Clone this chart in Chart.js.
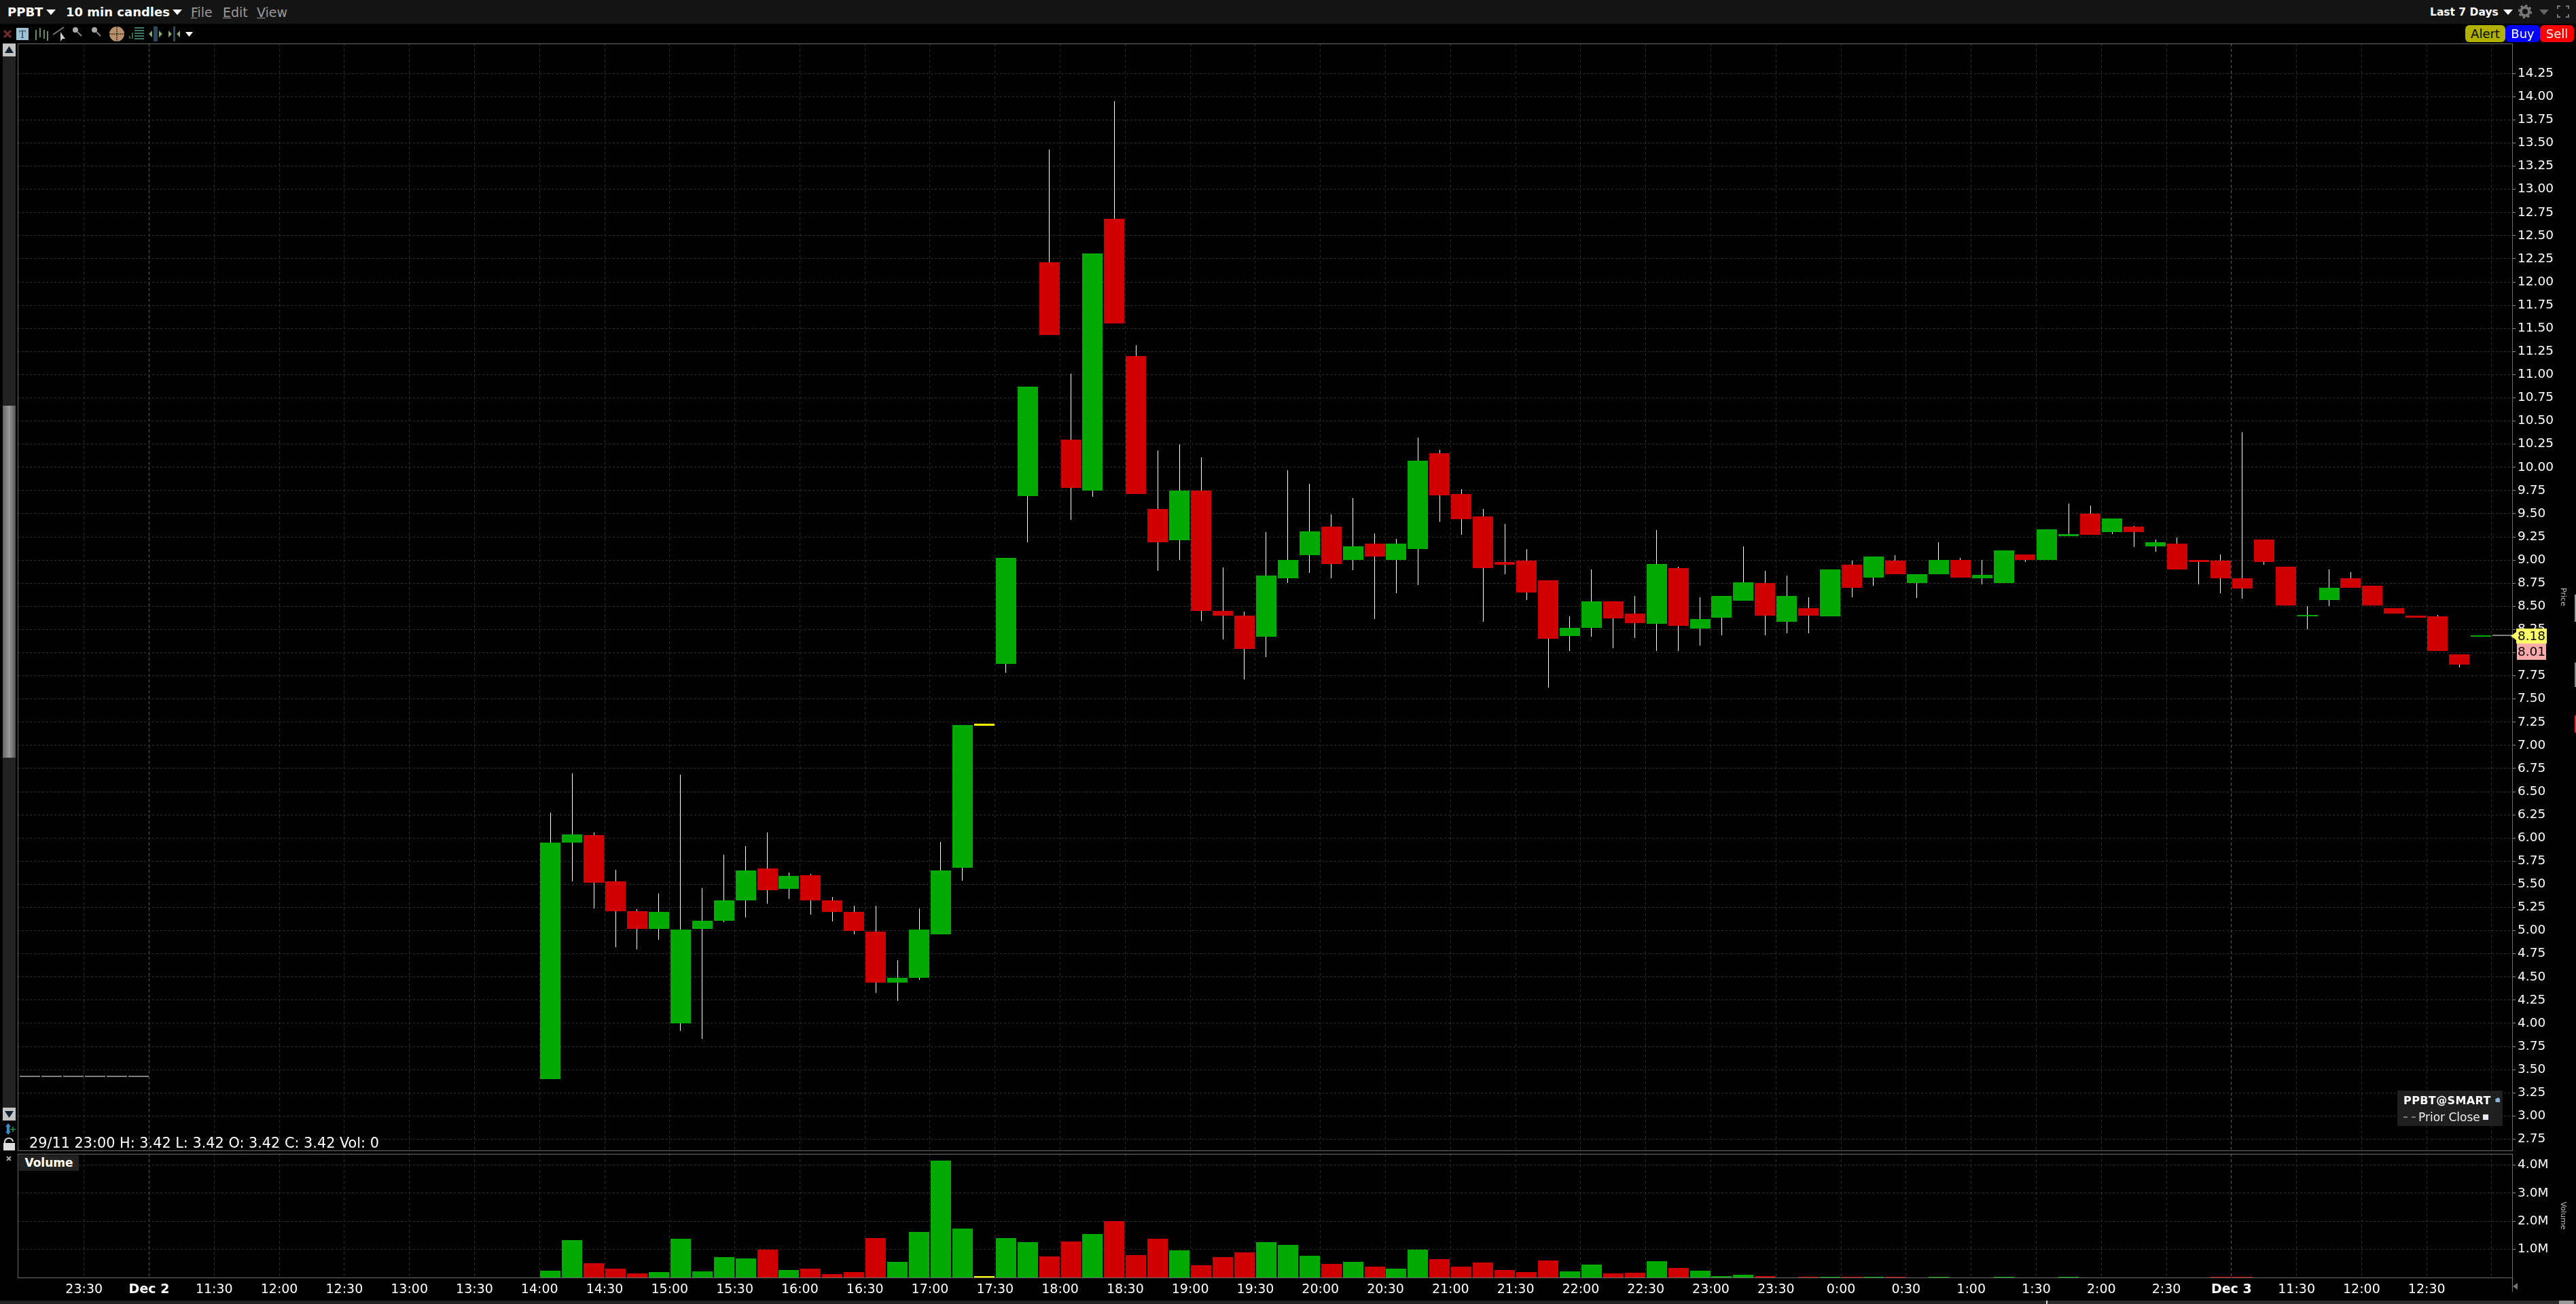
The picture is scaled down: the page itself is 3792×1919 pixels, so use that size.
<!DOCTYPE html>
<html>
<head>
<meta charset="utf-8">
<title>PPBT 10 min candles</title>
<script src="https://cdn.jsdelivr.net/npm/chart.js@4/dist/chart.umd.min.js"></script>
<style>
html, body { margin: 0; padding: 0; background: #000; width: 3792px; height: 1919px; overflow: hidden; }
body { font-family: "DejaVu Sans", sans-serif; color: #fff; position: relative; }
canvas { position: absolute; left: 0; }
#priceChart { top: 0; }
#volumeChart { top: 1683px; }
.abs { position: absolute; white-space: nowrap; }
#topbar { left: 0; top: 0; width: 3792px; height: 35px; background: #141414; }
.menu { top: 7px; font-size: 19px; line-height: 22px; color: #9a9a9a; }
.menu u { text-decoration-thickness: 1px; }
.head { top: 7px; font-size: 18px; line-height: 22px; font-weight: bold; color: #fff; }
.btn { top: 37px; height: 25px; line-height: 25px; text-align: center; font-size: 18px; border-radius: 6px; }
.tri { width: 0; height: 0; border-left: 7px solid transparent; border-right: 7px solid transparent; border-top: 8px solid #fff; }
#leftStrip { left: 4px; top: 64px; width: 19px; height: 1584px; background: #222; }
#thumb { left: 4px; top: 597px; width: 19px; height: 518px; background: linear-gradient(90deg, #666, #999 50%, #555); }
.scrollBtn { left: 4px; width: 19px; height: 19px; background: #c4c4c4; }
#bottomStrip { left: 0; top: 1914px; width: 3792px; height: 5px; background: #222; }
#bottomThumb { left: 3012px; top: 1914px; width: 755px; height: 5px; background: #2c2c2c; border-left: 2px solid #ddd; }
#status { left: 43px; top: 1670px; font-size: 20.8px; line-height: 24px; color: #fff; }
#volBox { left: 28px; top: 1700px; width: 88px; height: 23px; background: #222; font-size: 17px; line-height: 23px; font-weight: bold; text-align: center; }
#legendBox { left: 3529px; top: 1605px; width: 155px; height: 52px; background: rgba(34,34,34,0.92); }
</style>
</head>
<body>
<canvas id="priceChart" width="3792" height="1710"></canvas>
<canvas id="volumeChart" width="3792" height="231"></canvas>

<div class="abs" id="topbar"></div>
<div class="abs head" style="left:11px">PPBT</div>
<div class="abs tri" style="left:68px;top:14px"></div>
<div class="abs head" style="left:97px">10 min candles</div>
<div class="abs tri" style="left:254px;top:14px"></div>
<div class="abs menu" style="left:281px"><u>F</u>ile</div>
<div class="abs menu" style="left:328px"><u>E</u>dit</div>
<div class="abs menu" style="left:378px"><u>V</u>iew</div>
<div class="abs head" style="left:3577px;font-size:15.5px">Last 7 Days</div>
<div class="abs tri" style="left:3685px;top:14px"></div>
<svg class="abs" style="left:3707px;top:7px" width="20" height="20" viewBox="0 0 20 20"><circle cx="10" cy="10" r="6" fill="none" stroke="#777" stroke-width="4"/><circle cx="10" cy="10" r="9" fill="none" stroke="#777" stroke-width="2.5" stroke-dasharray="3.5 3.5"/></svg>
<div class="abs tri" style="left:3738px;top:14px;border-top-color:#666"></div>
<svg class="abs" style="left:3764px;top:8px" width="18" height="18" viewBox="0 0 18 18" fill="none" stroke="#777" stroke-width="2"><path d="M1 5V1H5M13 1H17V5M17 13V17H13M5 17H1V13"/></svg>

<div class="abs btn" style="left:3629px;width:59px;background:#b0b000;color:#000">Alert</div>
<div class="abs btn" style="left:3688px;width:51px;background:#0000ff;color:#fff">Buy</div>
<div class="abs btn" style="left:3739px;width:50px;background:#ff0000;color:#fff">Sell</div>

<!-- tool icons -->
<svg class="abs" style="left:0;top:35px" width="300" height="28" viewBox="0 0 300 28">
  <path d="M6 10L16 20M16 10L6 20" stroke="#7a2a2a" stroke-width="3"/>
  <rect x="24" y="6" width="18" height="18" fill="#9cc4d4"/>
  <text x="33" y="21" font-size="15" font-family="DejaVu Serif" text-anchor="middle" fill="#345">T</text>
  <path d="M53 9V24M59 6V20M65 9V22M70 11V25" stroke="#6a8a6a" stroke-width="2"/>
  <path d="M78 16L94 5" stroke="#777" stroke-width="2"/>
  <path d="M89 12L89 26L92 22L96 22Z" fill="#ccc"/>
  <circle cx="111" cy="9" r="4" fill="#aaa"/><path d="M114 12L120 18" stroke="#888" stroke-width="2"/>
  <circle cx="139" cy="9" r="4" fill="#aaa"/><path d="M142 12L148 18" stroke="#888" stroke-width="2"/>
  <circle cx="172" cy="15" r="11" fill="#b8906c"/>
  <path d="M161 15H183M172 4V26" stroke="#3a2a1c" stroke-width="1.5" stroke-dasharray="2 1"/>
  <path d="M198 6H212M198 10H212M198 14H212M198 18H212M198 22H212" stroke="#3f7a68" stroke-width="2"/>
  <path d="M191 22V18M195 22V13" stroke="#3a6a3a" stroke-width="2"/>
  <rect x="226" y="4" width="6" height="22" fill="#2d4a5c"/>
  <path d="M219 15L224 10V20ZM239 15L234 10V20Z" fill="#8aa878"/>
  <rect x="255" y="4" width="3" height="22" fill="#2d4a5c"/>
  <path d="M253 15L248 10V20ZM260 15L265 10V20Z" fill="#8aa878"/>
  <path d="M273 12H284L278.5 19Z" fill="#fff"/>
</svg>

<!-- left strip -->
<div class="abs" id="leftStrip"></div>
<div class="abs" id="thumb"></div>
<div class="abs scrollBtn" style="top:64px"><svg width="19" height="19"><path d="M3 14H16L9.5 4Z" fill="#123"/></svg></div>
<div class="abs scrollBtn" style="top:1630px"><svg width="19" height="19"><path d="M3 5H16L9.5 15Z" fill="#123"/></svg></div>
<svg class="abs" style="left:4px;top:1652px" width="20" height="56" viewBox="0 0 20 56">
  <path d="M8 1L12 6H10V13H12L8 18L4 13H6V6H4Z" fill="#3a8ad0"/>
  <path d="M11 10H19M15 6V14" stroke="#1a9a4a" stroke-width="1.5"/>
  <path d="M3 30V28C3 25 6 23 9 23S15 25 15 28" fill="none" stroke="#ddd" stroke-width="2"/>
  <rect x="1" y="30" width="17" height="11" fill="#ddd"/>
  <path d="M6 50L12 56M12 50L6 56" stroke="#aaa" stroke-width="2"/>
</svg>

<div class="abs" id="status">29/11 23:00 H: 3.42 L: 3.42 O: 3.42 C: 3.42 Vol: 0</div>
<div class="abs" id="volBox">Volume</div>

<div class="abs" id="legendBox"></div>
<div class="abs" style="left:3538px;top:1610px;font-size:16px;line-height:20px;font-weight:bold;letter-spacing:0.4px">PPBT@SMART</div>
<div class="abs" style="left:3538px;top:1634px;width:18px;height:0;border-top:2px dashed #777;margin-top:9px"></div>
<div class="abs" style="left:3560px;top:1634px;font-size:17px;line-height:20px;color:#eee">Prior Close</div>
<div class="abs" style="left:3655px;top:1640px;width:8px;height:8px;background:#e8e8f8"></div>
<svg class="abs" style="left:3673px;top:1614px" width="8" height="9"><path d="M0 4L4 1L7 3V8H1Z" fill="#8ab4dc"/></svg>

<!-- bottom strip -->
<div class="abs" id="bottomStrip"></div>
<div class="abs" id="bottomThumb"></div>
<div class="abs" style="left:3767px;top:1914px;width:22px;height:5px;background:#999"></div>
<svg class="abs" style="left:3699px;top:1888px" width="9" height="10"><path d="M0 5L7 0V10Z" fill="#777"/></svg>
<div class="abs" style="left:3698px;top:1880px;width:1px;height:21px;background:#777"></div>

<!-- edge of the neighbouring panel, cut off by the window -->
<div class="abs" style="left:3790px;top:875px;width:2px;height:40px;background:#999"></div>
<div class="abs" style="left:3790px;top:975px;width:2px;height:36px;background:#888"></div>
<div class="abs" style="left:3790px;top:1053px;width:2px;height:25px;background:#d03030"></div>

<script>
// Slot 0 = 14:00 on Dec 2, one slot = one 10 min candle. Slots -24..-19 are the session before.
const slots = [
  -24, -23, -22, -21, -20, -19,
  0, 1, 2, 3, 4, 5, 6, 7, 8, 9, 10, 11, 12, 13, 14, 15, 16, 17, 18, 19,
  20, 21, 22, 23, 24, 25, 26, 27, 28, 29, 30, 31, 32, 33, 34, 35, 36, 37, 38, 39,
  40, 41, 42, 43, 44, 45, 46, 47, 48, 49, 50, 51, 52, 53, 54, 55, 56, 57, 58, 59,
  60, 61, 62, 63, 64, 65, 66, 67, 68, 69, 70, 71, 72, 73, 74, 75, 76, 77, 78, 79,
  80, 81, 82, 83, 84, 85, 86, 87, 88, 89, 90
];
const opens = [
  3.42, 3.42, 3.42, 3.42, 3.42, 3.42,
  3.40, 5.95, 6.03, 5.53, 5.21, 5.02, 4.00, 5.02, 5.11, 5.33, 5.67, 5.45, 5.60, 5.33, 5.20, 4.99, 4.44, 4.49, 4.96, 5.68,
  7.21, 7.88, 9.69, 12.21, 10.30, 9.75, 12.68, 11.20, 9.55, 9.21, 9.75, 8.45, 8.40, 8.17, 8.80, 9.05, 9.36, 9.00, 9.18, 9.00,
  9.12, 10.15, 9.71, 9.47, 8.98, 8.99, 8.78, 8.18, 8.27, 8.55, 8.42, 8.31, 8.91, 8.26, 8.38, 8.56, 8.75, 8.33, 8.48, 8.39,
  8.95, 8.81, 8.99, 8.75, 8.85, 9.00, 8.80, 8.75, 9.06, 9.00, 9.26, 9.50, 9.30, 9.36, 9.15, 9.18, 9.00, 8.99, 8.80, 9.22,
  8.93, 8.39, 8.57, 8.80, 8.72, 8.48, 8.40, 8.39, 7.98, 8.17, 8.18
];
const closes = [
  3.42, 3.42, 3.42, 3.42, 3.42, 3.42,
  5.95, 6.04, 5.52, 5.21, 5.02, 5.20, 5.01, 5.11, 5.33, 5.65, 5.44, 5.59, 5.33, 5.20, 5.00, 4.44, 4.49, 5.01, 5.65, 7.22,
  7.23, 9.02, 10.87, 11.43, 9.78, 12.31, 11.55, 9.71, 9.19, 9.75, 8.45, 8.40, 8.04, 8.83, 9.00, 9.31, 8.96, 9.15, 9.04, 9.18,
  10.07, 9.70, 9.44, 8.91, 8.95, 8.65, 8.15, 8.27, 8.55, 8.37, 8.32, 8.96, 8.29, 8.36, 8.61, 8.76, 8.40, 8.61, 8.40, 8.90,
  8.70, 9.04, 8.85, 8.85, 9.00, 8.81, 8.84, 9.10, 9.00, 9.33, 9.28, 9.27, 9.45, 9.30, 9.19, 8.90, 8.98, 8.80, 8.69, 8.98,
  8.51, 8.41, 8.70, 8.70, 8.51, 8.42, 8.38, 8.02, 7.87, 8.18, 8.18
];
const highs = [
  3.42, 3.42, 3.42, 3.42, 3.42, 3.42,
  6.27, 6.70, 6.06, 5.66, 5.23, 5.40, 6.68, 5.46, 5.82, 5.91, 6.06, 5.63, 5.61, 5.36, 5.27, 5.27, 4.68, 5.24, 5.96, 7.22,
  7.21, 9.02, 10.87, 13.43, 11.01, 12.31, 13.95, 11.32, 10.18, 10.25, 10.11, 8.92, 8.44, 9.30, 9.97, 9.82, 9.49, 9.67, 9.29, 9.23,
  10.32, 10.19, 9.76, 9.55, 9.39, 9.12, 8.78, 8.39, 8.90, 8.55, 8.61, 9.32, 8.93, 8.60, 8.61, 9.15, 8.88, 8.83, 8.60, 8.90,
  8.99, 9.04, 9.05, 8.85, 9.19, 9.02, 9.00, 9.10, 9.06, 9.33, 9.61, 9.59, 9.45, 9.37, 9.22, 9.24, 9.00, 9.06, 10.38, 9.22,
  8.93, 8.50, 8.90, 8.87, 8.72, 8.48, 8.40, 8.41, 7.98, 8.18, 8.18
];
const lows = [
  3.42, 3.42, 3.42, 3.42, 3.42, 3.42,
  3.40, 5.53, 5.24, 4.82, 4.80, 4.90, 3.92, 3.83, 5.09, 5.14, 5.29, 5.34, 5.17, 5.10, 4.96, 4.33, 4.24, 4.47, 4.96, 5.54,
  7.21, 7.78, 9.19, 11.43, 9.43, 9.68, 11.55, 9.71, 8.88, 9.00, 8.34, 8.14, 7.71, 7.95, 8.75, 8.86, 8.80, 8.89, 8.36, 8.64,
  8.73, 9.41, 9.27, 8.33, 8.85, 8.57, 7.62, 8.02, 8.17, 8.05, 8.16, 8.02, 8.02, 8.08, 8.19, 8.56, 8.19, 8.21, 8.21, 8.39,
  8.60, 8.72, 8.85, 8.59, 8.85, 8.81, 8.74, 8.75, 8.98, 9.00, 9.26, 9.27, 9.28, 9.14, 9.09, 8.90, 8.74, 8.64, 8.58, 8.95,
  8.51, 8.25, 8.50, 8.70, 8.51, 8.42, 8.38, 8.02, 7.84, 8.17, 8.18
];
// volume in millions
const volumes = [
  0, 0, 0, 0, 0, 0,
  0.24, 1.33, 0.51, 0.31, 0.145, 0.19, 1.38, 0.22, 0.72, 0.68, 0.99, 0.27, 0.31, 0.12, 0.19, 1.40, 0.56, 1.62, 4.155, 1.74,
  0.05, 1.40, 1.26, 0.75, 1.28, 1.55, 2.00, 0.80, 1.38, 0.97, 0.43, 0.72, 0.89, 1.26, 1.16, 0.77, 0.48, 0.56, 0.39, 0.31,
  0.99, 0.65, 0.39, 0.53, 0.27, 0.19, 0.60, 0.22, 0.46, 0.145, 0.17, 0.58, 0.34, 0.24, 0.05, 0.10, 0.05, 0.005, 0.025, 0.025,
  0.025, 0.025, 0.025, 0.005, 0.025, 0.005, 0.005, 0.025, 0.005, 0.005, 0.025, 0.005, 0.005, 0.005, 0.005, 0.005, 0.005, 0.025, 0.025, 0,
  0, 0, 0, 0, 0, 0, 0, 0, 0, 0, 0
];

const tickSlots = [-21, -18, -15, -12, -9, -6, -3, 0, 3, 6, 9, 12, 15, 18, 21, 24, 27, 30, 33, 36, 39, 42, 45, 48, 51, 54, 57, 60, 63, 66, 69, 72, 75, 78, 81, 84, 87, 90];
const tickLabels = ['23:30', 'Dec 2', '11:30', '12:00', '12:30', '13:00', '13:30', '14:00', '14:30', '15:00', '15:30', '16:00', '16:30', '17:00', '17:30', '18:00', '18:30', '19:00', '19:30', '20:00', '20:30', '21:00', '21:30', '22:00', '22:30', '23:00', '23:30', '0:00', '0:30', '1:00', '1:30', '2:00', '2:30', 'Dec 3', '11:30', '12:00', '12:30', ''];
const priceTicks = [2.75, 3, 3.25, 3.5, 3.75, 4, 4.25, 4.5, 4.75, 5, 5.25, 5.5, 5.75, 6, 6.25, 6.5, 6.75, 7, 7.25, 7.5, 7.75, 8, 8.25, 8.5, 8.75, 9, 9.25, 9.5, 9.75, 10, 10.25, 10.5, 10.75, 11, 11.25, 11.5, 11.75, 12, 12.25, 12.5, 12.75, 13, 13.25, 13.5, 13.75, 14, 14.25];
const volumeTicks = [1, 2, 3, 4];
const lastPrice = 8.18;
const lowPrice = 8.01;

const GREEN = '#00aa00';
const RED = '#d00000';
const YELLOW = '#ffff00';
const GRAY = '#808080';
const FONT = '"DejaVu Sans", sans-serif';

Chart.defaults.animation = false;
Chart.defaults.font.family = FONT;

function candleColor(i) {
    if (slots[i] === 20) return YELLOW; // the halted bar
    if (closes[i] > opens[i]) return GREEN;
    if (closes[i] < opens[i]) return RED;
    return GRAY;
}
const colors = slots.map((s, i) => candleColor(i));

// keep bars on whole pixels, the original has crisp 1px wicks
const snapBars = {
    id: 'snapBars',
    beforeDatasetsDraw(chart) {
        chart.getSortedVisibleDatasetMetas().forEach(meta => {
            meta.data.forEach(bar => {
                const left = Math.round(bar.x - bar.width / 2);
                bar.x = left + bar.width / 2;
                bar.y = Math.round(bar.y);
                bar.base = Math.round(bar.base);
            });
        });
    }
};

const frame = {
    id: 'frame',
    beforeDatasetsDraw(chart) {
        const { ctx, chartArea: a } = chart;
        ctx.save();
        ctx.strokeStyle = '#6e6e6e';
        ctx.lineWidth = 1;
        ctx.strokeRect(Math.round(a.left) + 0.5, Math.round(a.top) + 0.5, Math.round(a.right - a.left), Math.round(a.bottom - a.top));
        ctx.restore();
    }
};

function drawTag(ctx, text, y, bg, x, w, h) {
    ctx.fillStyle = bg;
    ctx.fillRect(x, y - h / 2, w, h);
    ctx.fillStyle = '#000';
    ctx.font = '18.5px ' + FONT;
    ctx.textAlign = 'center';
    ctx.textBaseline = 'middle';
    ctx.fillText(text, x + w / 2, y + 1);
}

// last price / low price tags on the axis
const priceTags = {
    id: 'priceTags',
    afterDraw(chart) {
        const { ctx, scales } = chart;
        const yLast = Math.round(scales.y.getPixelForValue(lastPrice));
        const yLow = Math.round(scales.y.getPixelForValue(lowPrice));
        ctx.save();
        drawTag(ctx, lowPrice.toFixed(2), yLow, '#ffaaaa', 3705, 43, 24);
        drawTag(ctx, lastPrice.toFixed(2), yLast, '#ffff66', 3704, 45, 22);
        ctx.fillStyle = '#ffff66';
        ctx.beginPath();
        ctx.moveTo(3696, yLast);
        ctx.lineTo(3704, yLast - 6);
        ctx.lineTo(3704, yLast + 6);
        ctx.fill();
        ctx.restore();
    }
};

function xAxis(showLabels) {
    return {
        type: 'linear',
        offset: false,
        min: -24.06,
        max: 90.94,
        afterBuildTicks: axis => { axis.ticks = tickSlots.map(v => ({ value: v })); },
        afterFit: axis => { axis.height = showLabels ? 34 : 0; },
        border: { display: false, dash: [4, 4] },
        grid: {
            offset: false,
            drawTicks: false,
            color: ctx => (ctx.tick && (ctx.tick.value === -18 || ctx.tick.value === 78)) ? '#5e5e5e' : '#2a2a2a'
        },
        ticks: {
            display: showLabels,
            autoSkip: false,
            maxRotation: 0,
            padding: 7,
            color: '#fff',
            font: ctx => ({ size: 19, weight: String(ctx.tick && ctx.tick.label).startsWith('Dec') ? 'bold' : 'normal' }),
            callback: v => tickLabels[tickSlots.indexOf(v)]
        }
    };
}

function yAxis(min, max, values, title, format) {
    return {
        type: 'linear',
        position: 'right',
        min: min,
        max: max,
        afterBuildTicks: axis => { axis.ticks = values.map(v => ({ value: v })); },
        afterFit: axis => { axis.width = 94; },
        border: { display: false, dash: [3, 3] },
        grid: { color: '#303030', tickColor: '#888', tickLength: 5 },
        title: { display: true, text: title, color: '#bbb', font: { size: 11 }, padding: { top: 13, bottom: 0 } },
        ticks: { autoSkip: false, padding: 3, color: '#fff', font: { size: 18.5 }, callback: format }
    };
}

new Chart(document.getElementById('priceChart'), {
    type: 'bar',
    data: {
        datasets: [
            {
                label: 'Body',
                order: 1,
                grouped: false,
                barThickness: 30,
                minBarLength: 2,
                inflateAmount: 0,
                backgroundColor: colors,
                data: slots.map((s, i) => ({ x: s + 0.5, y: [opens[i], closes[i]] }))
            },
            {
                label: 'Wick',
                order: 2,
                grouped: false,
                barThickness: 1,
                inflateAmount: 0,
                backgroundColor: '#ffffff',
                data: slots.map((s, i) => ({ x: s + 0.5, y: [lows[i], highs[i]] }))
            }
        ]
    },
    options: {
        responsive: false,
        maintainAspectRatio: false,
        layout: { padding: { left: 26, top: 64, bottom: 17, right: 0 } },
        plugins: { legend: { display: false }, tooltip: { enabled: false } },
        scales: {
            x: xAxis(false),
            y: yAxis(2.628, 14.574, priceTicks, 'Price', v => v.toFixed(2))
        }
    },
    plugins: [frame, snapBars, priceTags]
});

new Chart(document.getElementById('volumeChart'), {
    type: 'bar',
    data: {
        datasets: [{
            label: 'Volume',
            grouped: false,
            barThickness: 30,
            inflateAmount: 0,
            backgroundColor: colors,
            data: slots.map((s, i) => ({ x: s + 0.5, y: volumes[i] }))
        }]
    },
    options: {
        responsive: false,
        maintainAspectRatio: false,
        layout: { padding: { left: 26, top: 15, bottom: 0, right: 0 } },
        plugins: { legend: { display: false }, tooltip: { enabled: false } },
        scales: {
            x: xAxis(true),
            y: yAxis(0, 4.396, volumeTicks, 'Volume', v => v.toFixed(1) + 'M')
        }
    },
    plugins: [frame, snapBars]
});
</script>
</body>
</html>
